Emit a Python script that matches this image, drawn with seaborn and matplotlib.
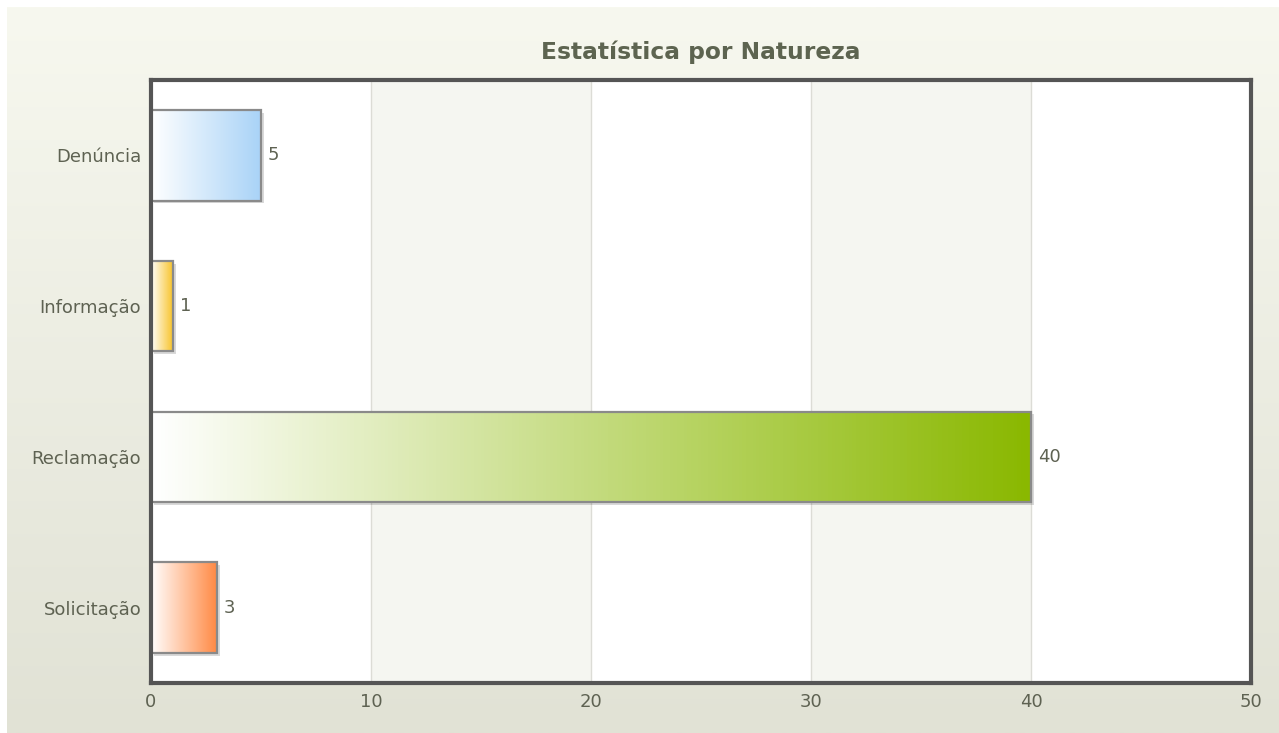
import numpy as np
import pandas as pd
import seaborn as sns
import matplotlib.pyplot as plt
import matplotlib.patheffects as pe
from matplotlib.colors import LinearSegmentedColormap
from matplotlib.patches import Rectangle

categories = ["Denúncia", "Informação", "Reclamação", "Solicitação"]
values = [5, 1, 40, 3]
bar_colors = ["#a9d3f7", "#f8c42c", "#8ab800", "#ff8a45"]
x_ticks = [0, 10, 20, 30, 40, 50]
title = "Estatística por Natureza"

text_color = "#5e6252"

sns.set_theme(style="white")
plt.rcParams["font.family"] = ["DejaVu Sans"]

fig = plt.figure(figsize=(12.79, 7.33), dpi=100)
fig.patch.set_facecolor("white")

# background gradient of the chart area
bg = fig.add_axes([7 / 1279, 0, 1 - 7 / 1279, 1 - 7 / 733], zorder=-10)
bg_cmap = LinearSegmentedColormap.from_list("bg", ["#f7f8ef", "#e1e2d5"])
bg.imshow(np.linspace(0, 1, 256).reshape(-1, 1), cmap=bg_cmap, aspect="auto",
          extent=(0, 1, 0, 1))
bg.set_axis_off()

ax = fig.add_axes([151 / 1279, 1 - 683 / 733, 1100 / 1279, 603 / 733])
ax.set_facecolor("white")

df = pd.DataFrame({"natureza": categories, "total": values})
sns.barplot(data=df, x="total", y="natureza", hue="natureza", orient="h",
            palette=bar_colors, width=0.6, legend=False, ax=ax, zorder=3)

# alternating bands and grid lines
for lo in (10, 30):
    ax.axvspan(lo, lo + 10, color="#f5f6f1", zorder=0, lw=0)
for t in x_ticks[1:-1]:
    ax.axvline(t, color="#dcdcd6", lw=1, zorder=1)

# gradient fill for each bar
for patch, col, val in zip(ax.patches[:len(values)], bar_colors, values):
    x0, y0 = patch.get_x(), patch.get_y()
    w, h = patch.get_width(), patch.get_height()
    patch.set_path_effects([pe.SimplePatchShadow(offset=(2, -2), shadow_rgbFace="#000000",
                                                 alpha=0.15), pe.Normal()])
    patch.set_edgecolor("none")
    cmap = LinearSegmentedColormap.from_list("g", ["#ffffff", col])
    im = ax.imshow(np.linspace(0, 1, 256).reshape(1, -1), cmap=cmap, aspect="auto",
                   extent=(x0, x0 + w, y0 + h, y0), zorder=4)
    im.set_clip_path(patch)
    ax.add_patch(Rectangle((x0, y0), w, h, fill=False, edgecolor="#8a8a8a",
                           lw=1.6, zorder=5))
    ax.annotate(str(val), (x0 + w, y0 + h / 2), xytext=(5, 0), textcoords="offset points",
                va="center", ha="left", fontsize=13, color=text_color)

ax.set_xlim(0, 50)
ax.set_ylim(3.5, -0.5)
ax.set_xticks(x_ticks)
ax.set_xlabel("")
ax.set_ylabel("")
ax.tick_params(axis="both", length=0, labelsize=13, labelcolor=text_color)
ax.tick_params(axis="x", pad=7)
ax.tick_params(axis="y", pad=7)
for s in ax.spines.values():
    s.set_visible(True)
    s.set_color("#555555")
    s.set_linewidth(3)
    s.set_zorder(6)

fig.text(701 / 1279, 1 - 52 / 733, title, ha="center", va="center",
         fontsize=16.8, fontweight="bold", color="#5d6450")

fig.savefig("out.png", dpi=100)
